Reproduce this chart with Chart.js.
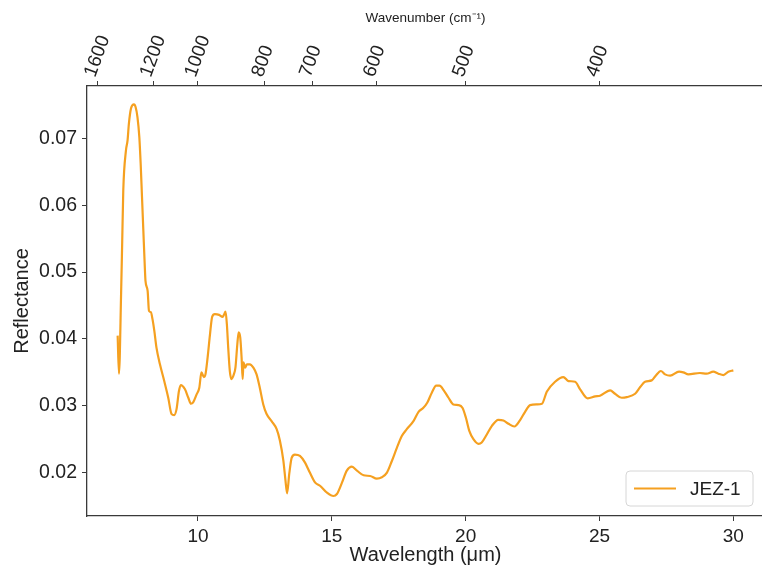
<!DOCTYPE html>
<html>
<head>
<meta charset="utf-8">
<script src="https://cdn.jsdelivr.net/npm/chart.js@4.4.1/dist/chart.umd.min.js"></script>
<style>
  html, body { margin: 0; padding: 0; background: #fff; overflow: hidden; }
  canvas { display: block; }
</style>
</head>
<body>
<canvas id="chart" width="770" height="569"></canvas>
<script>
// wavelength (um) and reflectance
const wavelength = [
  7.00, 7.05, 7.13, 7.17, 7.21, 7.31, 7.37, 7.42, 7.50, 7.61, 7.67, 7.74, 7.81, 7.86, 7.91, 7.96,
  8.01, 8.04, 8.12, 8.17, 8.24, 8.30, 8.37, 8.45, 8.58, 8.74, 8.89, 9.01, 9.11, 9.20, 9.29, 9.36,
  9.51, 9.64, 9.74, 9.82, 9.95, 10.05, 10.13, 10.22, 10.28, 10.36, 10.45, 10.53, 10.63, 10.79, 10.92, 10.98,
  11.03, 11.08, 11.13, 11.19, 11.25, 11.34, 11.40, 11.47, 11.52, 11.58, 11.63, 11.67, 11.70, 11.76, 11.83, 11.94,
  12.07, 12.19, 12.31, 12.44, 12.56, 12.75, 12.94, 13.06, 13.19, 13.27, 13.33, 13.41, 13.50, 13.62, 13.81, 14.00,
  14.18, 14.38, 14.57, 14.82, 15.06, 15.19, 15.38, 15.56, 15.75, 15.94, 16.19, 16.43, 16.68, 16.87, 17.06, 17.24,
  17.43, 17.62, 17.80, 18.05, 18.24, 18.42, 18.57, 18.74, 18.90, 19.02, 19.20, 19.36, 19.54, 19.73, 19.88, 20.01,
  20.14, 20.29, 20.48, 20.60, 20.79, 20.98, 21.22, 21.41, 21.60, 21.82, 22.04, 22.22, 22.41, 22.66, 22.85, 23.03,
  23.34, 23.65, 23.84, 24.09, 24.27, 24.56, 24.84, 25.02, 25.40, 25.58, 25.83, 26.02, 26.33, 26.52, 26.70, 26.95,
  27.10, 27.29, 27.45, 27.64, 27.97, 28.13, 28.32, 28.75, 29.00, 29.25, 29.44, 29.63, 29.81, 30.00
];
const reflectance = [
  0.0405, 0.0348, 0.0470, 0.0545, 0.0622, 0.0682, 0.0697, 0.0722, 0.0745, 0.0751, 0.0747, 0.0732, 0.0702, 0.0662, 0.0612, 0.0562,
  0.0512, 0.0487, 0.0472, 0.0442, 0.0440, 0.0430, 0.0412, 0.0387, 0.0362, 0.0337, 0.0312, 0.0288, 0.0286, 0.0295, 0.0322, 0.0331,
  0.0325, 0.0312, 0.0303, 0.0305, 0.0317, 0.0327, 0.0350, 0.0343, 0.0347, 0.0372, 0.0407, 0.0433, 0.0437, 0.0436, 0.0433, 0.0437,
  0.0441, 0.0422, 0.0387, 0.0352, 0.0340, 0.0347, 0.0357, 0.0392, 0.0410, 0.0402, 0.0372, 0.0340, 0.0365, 0.0357, 0.0362, 0.0362,
  0.0357, 0.0347, 0.0327, 0.0302, 0.0288, 0.0277, 0.0265, 0.0248, 0.0218, 0.0188, 0.0169, 0.0198, 0.0222, 0.0227, 0.0225, 0.0215,
  0.0200, 0.0185, 0.0180, 0.0170, 0.0165, 0.0168, 0.0185, 0.0203, 0.0209, 0.0203, 0.0196, 0.0195, 0.0191, 0.0193, 0.0200, 0.0217,
  0.0237, 0.0255, 0.0265, 0.0277, 0.0291, 0.0297, 0.0305, 0.0320, 0.0330, 0.0330, 0.0322, 0.0312, 0.0302, 0.0301, 0.0297, 0.0282,
  0.0262, 0.0250, 0.0243, 0.0245, 0.0257, 0.0270, 0.0279, 0.0278, 0.0273, 0.0269, 0.0279, 0.0291, 0.0301, 0.0302, 0.0303, 0.0321,
  0.0336, 0.0343, 0.0337, 0.0336, 0.0325, 0.0311, 0.0314, 0.0315, 0.0323, 0.0318, 0.0312, 0.0313, 0.0318, 0.0328, 0.0336, 0.0338,
  0.0345, 0.0352, 0.0347, 0.0345, 0.0351, 0.0350, 0.0347, 0.0349, 0.0348, 0.0351, 0.0348, 0.0346, 0.0351, 0.0353
];
const wavelengthTicks = [10, 15, 20, 25, 30];
const reflectanceTicks = [0.02, 0.03, 0.04, 0.05, 0.06, 0.07];
const wavenumberTicks = [1600, 1200, 1000, 800, 700, 600, 500, 400];
const seriesName = 'JEZ-1';
const lineColor = '#f5a020';

const X_MIN = 5.855, X_MAX = 31.145;
const font = "'Liberation Sans', Arial, Helvetica, sans-serif";
const axisColor = '#3a3a3a';

// matplotlib-like legend box in the lower right of the plot
const cornerLegend = {
  id: 'cornerLegend',
  afterDraw(chart) {
    const { ctx, chartArea } = chart;
    const w = 127, h = 35;
    const x = chartArea.right - 11 - w, y = chartArea.bottom - 10 - h;
    ctx.save();
    ctx.beginPath();
    ctx.roundRect(x, y, w, h, 4);
    ctx.fillStyle = 'rgba(255,255,255,0.85)';
    ctx.fill();
    ctx.strokeStyle = '#d6d6d6';
    ctx.lineWidth = 1;
    ctx.stroke();
    ctx.strokeStyle = lineColor;
    ctx.lineWidth = 2;
    ctx.beginPath();
    ctx.moveTo(x + 8, y + h / 2);
    ctx.lineTo(x + 50, y + h / 2);
    ctx.stroke();
    ctx.fillStyle = '#222';
    ctx.font = '19px ' + font;
    ctx.textBaseline = 'middle';
    ctx.fillText(seriesName, x + 64, y + h / 2 + 1);
    ctx.restore();
  }
};

new Chart(document.getElementById('chart'), {
  type: 'line',
  data: {
    datasets: [{
      label: seriesName,
      data: wavelength.map((x, i) => ({ x, y: reflectance[i] })),
      borderColor: lineColor,
      borderWidth: 2.2,
      pointRadius: 0,
      cubicInterpolationMode: 'monotone',
      fill: false
    }]
  },
  options: {
    responsive: false,
    animation: false,
    layout: { padding: { left: 0, right: 6, top: 0, bottom: 0 } },
    plugins: { legend: { display: false }, tooltip: { enabled: false } },
    scales: {
      x: {
        type: 'linear', position: 'bottom', min: X_MIN, max: X_MAX,
        afterBuildTicks: a => { a.ticks = wavelengthTicks.map(v => ({ value: v })); },
        afterFit: s => { s.height = 53; },
        grid: { drawOnChartArea: false, drawTicks: true, tickLength: 5, color: axisColor },
        border: { display: true, color: axisColor, width: 1.3 },
        ticks: { color: '#222', font: { family: font, size: 19 }, padding: 4, maxRotation: 0, autoSkip: false },
        title: { display: true, text: 'Wavelength (μm)', color: '#222', font: { family: font, size: 20 }, padding: { top: 0, bottom: 2 } }
      },
      top: {
        type: 'linear', position: 'top', min: X_MIN, max: X_MAX,
        afterBuildTicks: a => { a.ticks = wavenumberTicks.map(w => ({ value: 10000 / w })); },
        afterFit: s => { s.height = 86; },
        grid: { drawOnChartArea: false, drawTicks: true, tickLength: 5, color: axisColor },
        border: { display: true, color: axisColor, width: 1.3 },
        ticks: {
          color: '#222', font: { family: font, size: 19 }, padding: 1,
          minRotation: 70, maxRotation: 70, autoSkip: false, labelOffset: 14,
          callback: (v, i) => String(wavenumberTicks[i])
        },
        title: { display: true, text: 'Wavenumber (cm⁻¹)', color: '#222', font: { family: font, size: 13.5 }, padding: { top: 10, bottom: 0 } }
      },
      y: {
        type: 'linear', position: 'left', min: 0.01351, max: 0.07784,
        afterBuildTicks: a => { a.ticks = reflectanceTicks.map(v => ({ value: v })); },
        afterFit: s => { s.width = 87; },
        grid: { drawOnChartArea: false, drawTicks: true, tickLength: 5, color: axisColor },
        border: { display: true, color: axisColor, width: 1.3 },
        ticks: { color: '#222', font: { family: font, size: 19.5 }, padding: 5, callback: v => v.toFixed(2) },
        title: { display: true, text: 'Reflectance', color: '#222', font: { family: font, size: 20 }, padding: { top: 10, bottom: 0 } }
      }
    }
  },
  plugins: [cornerLegend]
});
</script>
</body>
</html>
